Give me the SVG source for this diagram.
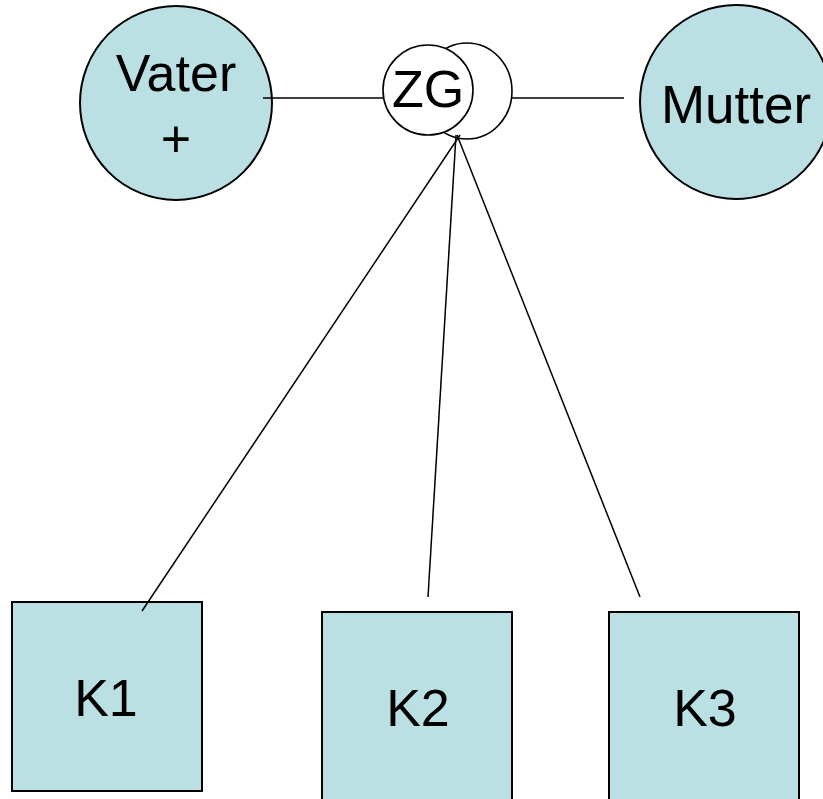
<svg xmlns="http://www.w3.org/2000/svg" width="823" height="799" viewBox="0 0 823 799">
<style>
.n{fill:#BBE0E3;stroke:#000;stroke-width:2}
.z{fill:#fff;stroke:#000;stroke-width:1.6}
.c{stroke:#000;stroke-width:1.5;fill:none}
text{font-family:"Liberation Sans",Arial,sans-serif;font-size:52px;fill:#000;text-anchor:middle}
</style>
<rect width="823" height="799" fill="#fff"/>
<g id="vater">
<ellipse class="n" cx="176" cy="103" rx="96" ry="97"/>
<text x="176" y="91">Vater</text>
<text x="176" y="157">+</text>
</g>
<g id="mutter">
<ellipse class="n" cx="736" cy="102" rx="96" ry="97"/>
<text x="736" y="123" style="font-size:53px">Mutter</text>
</g>
<g id="zg">
<ellipse class="z" cx="467" cy="91" rx="45" ry="48"/>
<ellipse class="z" cx="428" cy="90" rx="45" ry="45"/>
<text x="428" y="107">ZG</text>
</g>
<g id="k1">
<rect class="n" x="12" y="602" width="190" height="189"/>
<text x="106" y="716">K1</text>
</g>
<g id="k2">
<rect class="n" x="322" y="612" width="190" height="200"/>
<text x="418" y="726">K2</text>
</g>
<g id="k3">
<rect class="n" x="609" y="612" width="190" height="200"/>
<text x="705" y="726">K3</text>
</g>
<g id="connectors">
<line class="c" x1="263" y1="98" x2="383" y2="98"/>
<line class="c" x1="512" y1="98" x2="624" y2="98"/>
<line class="c" x1="460" y1="135" x2="142" y2="611"/>
<line class="c" x1="456" y1="135" x2="428" y2="597"/>
<line class="c" x1="457" y1="135" x2="640" y2="597"/>
</g>
</svg>
